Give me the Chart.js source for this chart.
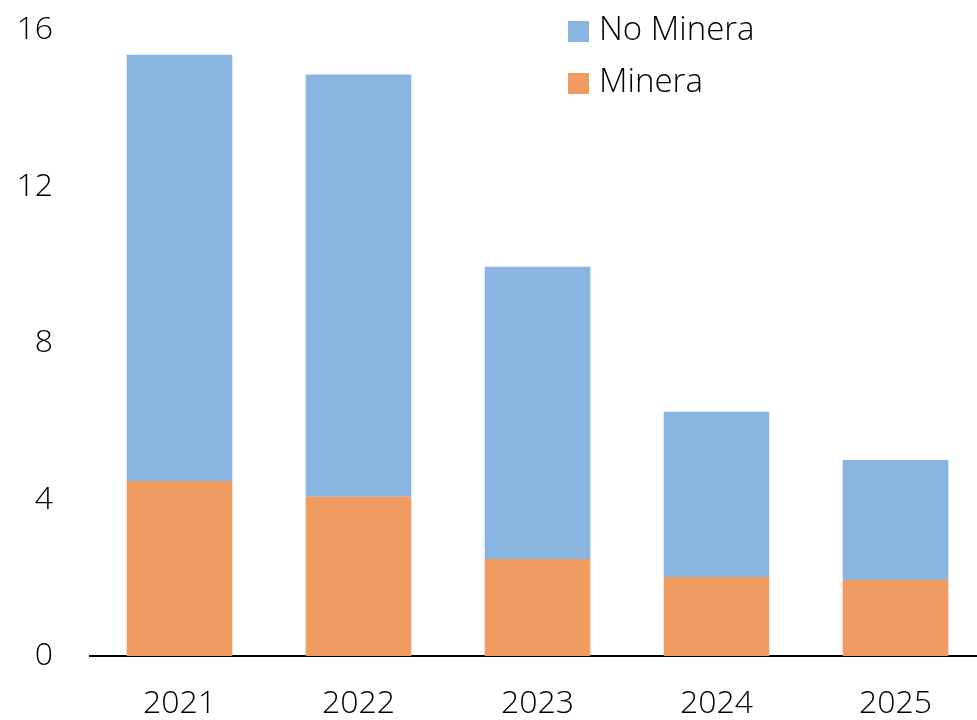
<!DOCTYPE html>
<html>
<head>
<meta charset="utf-8">
<script src="https://cdn.jsdelivr.net/npm/chart.js@4/dist/chart.umd.min.js"></script>
<style>
  html, body { margin: 0; padding: 0; background: #fff; overflow: hidden; }
  #wrap { width: 985px; height: 720px; }
</style>
</head>
<body>
<div id="wrap"><canvas id="myChart"></canvas></div>
<script>
var years = ['2021', '2022', '2023', '2024', '2025'];
var minera = [4.47, 4.07, 2.48, 2.02, 1.94];
var noMinera = [10.9, 10.79, 7.47, 4.22, 3.07];
var yTicks = [0, 4, 8, 12, 16];

var fontFamily = "'Open Sans', 'Noto Sans', sans-serif";

// legend drawn inside the plot, top right, blue entry first
var innerLegend = {
  id: 'innerLegend',
  afterDraw: function (chart) {
    var ctx = chart.ctx;
    var items = [chart.data.datasets[1], chart.data.datasets[0]];
    ctx.save();
    ctx.font = '300 33px ' + fontFamily;
    ctx.textBaseline = 'middle';
    items.forEach(function (ds, i) {
      var y = 31 + i * 52;
      ctx.fillStyle = ds.backgroundColor;
      ctx.fillRect(568, y - 10, 21, 21);
      ctx.fillStyle = '#000';
      ctx.fillText(ds.label, 599, y);
    });
    ctx.restore();
  }
};

var ctx = document.getElementById('myChart');
var chart = new Chart(ctx, {
  type: 'bar',
  data: {
    labels: years,
    datasets: [{
      label: 'Minera',
      data: minera,
      backgroundColor: '#F09B61'
    }, {
      label: 'No Minera',
      data: noMinera,
      backgroundColor: '#8AB4E0'
    }]
  },
  options: {
    responsive: true,
    maintainAspectRatio: false,
    animation: false,
    layout: { padding: { top: 30, right: 0, bottom: 0, left: 0 } },
    plugins: {
      legend: { display: false },
      tooltip: { enabled: false }
    },
    datasets: {
      bar: { categoryPercentage: 1, barPercentage: 0.59 }
    },
    scales: {
      x: {
        stacked: true,
        grid: { display: false, drawTicks: false },
        border: { display: true, color: '#000', width: 2 },
        ticks: {
          color: '#000',
          padding: 29,
          font: { family: fontFamily, size: 32, weight: 300 }
        },
        afterFit: function (scale) { scale.height = 64; }
      },
      y: {
        stacked: true,
        min: 0,
        max: 16,
        afterBuildTicks: function (scale) {
          scale.ticks = yTicks.map(function (v) { return { value: v }; });
        },
        grid: { display: false, drawTicks: false },
        border: { display: false },
        ticks: {
          color: '#000',
          padding: 37,
          font: { family: fontFamily, size: 32, weight: 300 }
        },
        afterFit: function (scale) {
          scale.width = 90;
          scale.paddingTop = 0;
          scale.paddingBottom = 0;
        }
      }
    }
  },
  plugins: [innerLegend]
});
</script>
</body>
</html>
